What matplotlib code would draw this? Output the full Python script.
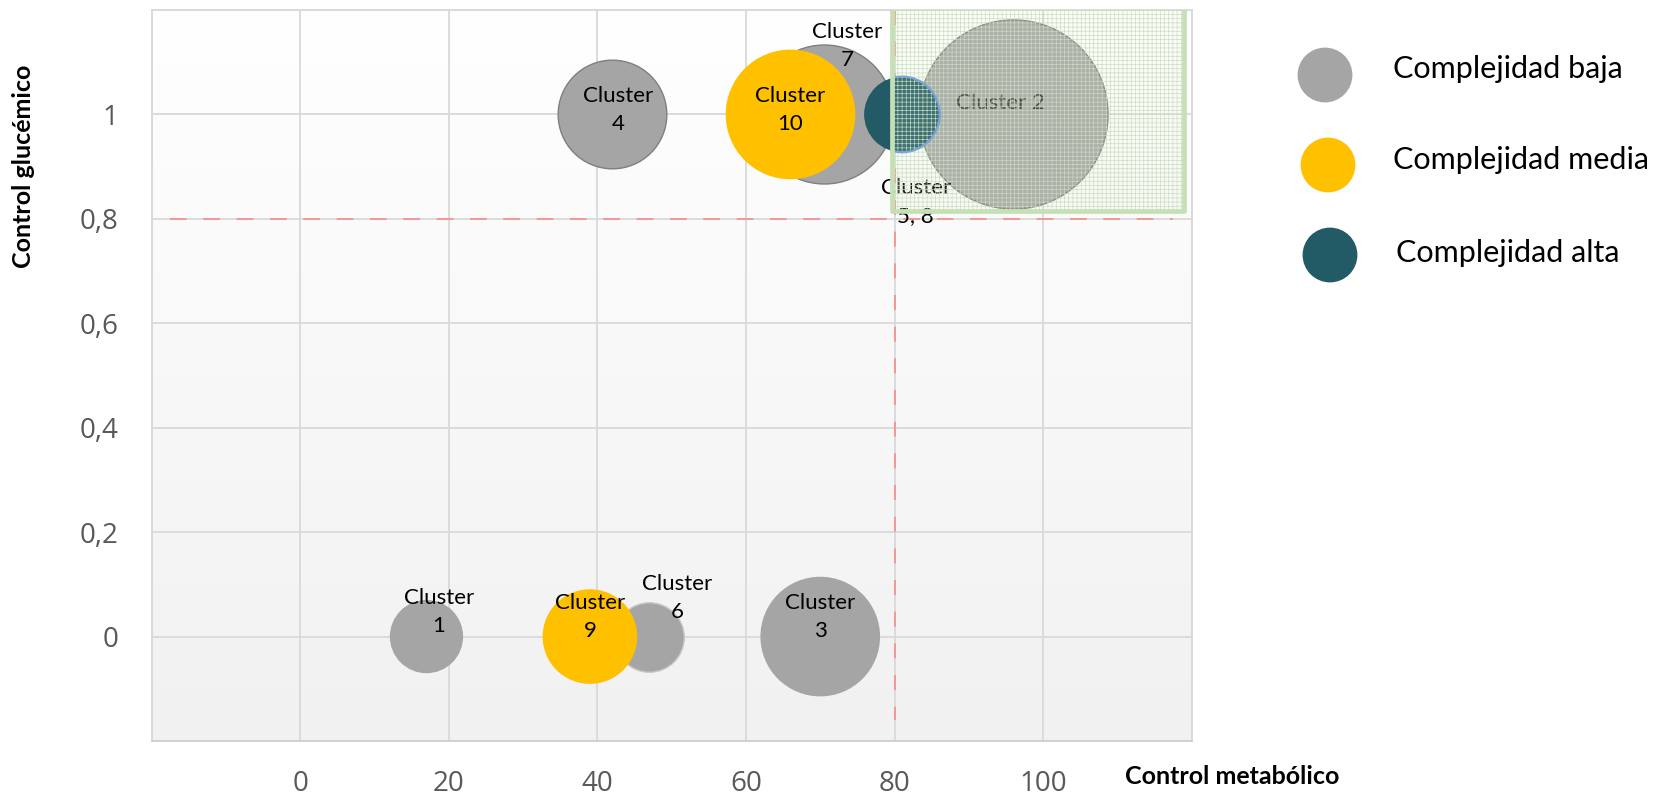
import numpy as np
import matplotlib
matplotlib.use("Agg")
import matplotlib.pyplot as plt
from matplotlib.colors import LinearSegmentedColormap
from matplotlib.patches import Rectangle, Circle

# ---- data -------------------------------------------------------------
cluster_labels = ["Cluster\n1", "Cluster 2", "Cluster\n3", "Cluster\n4",
                  "Cluster\n6", "Cluster\n7", "Cluster\n9", "Cluster\n10",
                  "Cluster\n5, 8"]
control_metabolico = [17, 96, 70, 42, 47, 70.5, 39, 66, 81]
control_glucemico = [0, 1, 0, 1, 0, 1, 0, 1, 1]
bubble_size = [15, 100, 40, 33, 13.5, 54, 25, 47, 16]
complejidad = ["baja", "baja", "baja", "baja", "baja", "baja",
               "media", "media", "alta"]

x_ticks = [-20, 0, 20, 40, 60, 80, 100, 120]
x_tick_labels = ["", "0", "20", "40", "60", "80", "100", ""]
y_ticks = [-0.2, 0, 0.2, 0.4, 0.6, 0.8, 1.0, 1.2]
y_tick_labels = ["", "0", "0,2", "0,4", "0,6", "0,8", "1", ""]

umbral_metabolico = 80
umbral_glucemico = 0.8

legend_names = ["Complejidad baja", "Complejidad media", "Complejidad alta"]

# ---- style ------------------------------------------------------------
colors = {"baja": "#a5a5a5", "media": "#ffc000", "alta": "#225a66"}
edge_colors = ["none", "#7a7a7a", "none", "#7f7f7f", "#c8c8c8", "#7f7f7f",
               "none", "none", "none"]
# label offsets (points) from each bubble centre
label_offsets = [(9, 18), (-9, 8), (0, 14), (4, 3), (20, 28), (17, 49),
                 (0, 14), (0, 3), (10, -63)]
label_colors = ["black", "#333333", "black", "black", "black", "black",
                "black", "black", "black"]

W, H = 1674, 799
plt.rcParams["font.family"] = ["Lato", "DejaVu Sans"]
plt.rcParams["hatch.linewidth"] = 0.45

fig = plt.figure(figsize=(W / 100, H / 100), dpi=100)
ax = fig.add_axes([151.6 / W, 1 - 741 / H, (1191.7 - 151.6) / W, (741 - 10) / H])

# soft vertical gradient for the plot area
bg = LinearSegmentedColormap.from_list("bg", ["#ffffff", "#f1f1f1"])
ax.imshow(np.linspace(0, 1, 256).reshape(-1, 1), cmap=bg, aspect="auto",
          extent=[-20, 120, -0.2, 1.2], origin="upper", zorder=0)

ax.set_xlim(-20, 120)
ax.set_ylim(-0.2, 1.2)
ax.set_xticks(x_ticks)
ax.set_xticklabels(x_tick_labels)
ax.set_yticks(y_ticks)
ax.set_yticklabels(y_tick_labels)
ax.tick_params(length=0, labelsize=20, labelcolor="#595959")
ax.tick_params(axis="y", pad=24)
ax.tick_params(axis="x", pad=21)
for lab in ax.get_xticklabels() + ax.get_yticklabels():
    lab.set_family("Open Sans")
ax.grid(True, color="#d9d9d9", lw=1.3, zorder=0.5)
ax.set_axisbelow(True)
for side, sp in ax.spines.items():
    sp.set_color("#d9d9d9")
    sp.set_linewidth(1.3)
ax.spines["bottom"].set_color("#cfcfcf")

# threshold reference lines
ax.plot([-17.5, 117.5], [umbral_glucemico, umbral_glucemico], color="#ff6b6b",
        lw=1.2, dashes=(10, 10), alpha=0.7, zorder=1)
ax.plot([umbral_metabolico, umbral_metabolico], [1.2, -0.16], color="#ff6b6b",
        lw=1.2, dashes=(9, 10), alpha=0.7, zorder=1)

# bubbles
k = 185.5
pt_colors = [colors[c] for c in complejidad]
for i in range(len(cluster_labels)):
    ax.scatter(control_metabolico[i], control_glucemico[i],
               s=bubble_size[i] * k, color=pt_colors[i],
               edgecolors=edge_colors[i], linewidths=1.0, zorder=2 + i * 0.01)

for i, txt in enumerate(cluster_labels):
    ax.annotate(txt, (control_metabolico[i], control_glucemico[i]),
                xytext=label_offsets[i], textcoords="offset points",
                ha="center", va="center", fontsize=16, linespacing=1.5,
                color=label_colors[i], zorder=3)

# highlighted target zone
zone = Rectangle((umbral_metabolico - 0.4, umbral_glucemico + 0.015), 39.4, 0.39,
                 facecolor=(0.886, 0.94, 0.85, 0.14), edgecolor="#c9dcbc",
                 hatch="++++", lw=0, zorder=4)
ax.add_patch(zone)
ax.add_patch(Rectangle((umbral_metabolico - 0.4, umbral_glucemico + 0.015), 39.4, 0.39,
                       fill=False, edgecolor="#c5e0b4", lw=3.4, zorder=4.5,
                       joinstyle="round"))
ring = ax.scatter(control_metabolico[-1], control_glucemico[-1],
                  s=bubble_size[-1] * k, facecolors="none",
                  edgecolors="#7aa6d6", linewidths=1.6, zorder=4.2)
ring.set_clip_path(zone)

# legend and axis titles, laid out in figure pixels
lax = fig.add_axes([0, 0, 1, 1])
lax.set_xlim(0, W)
lax.set_ylim(H, 0)
lax.axis("off")
lax.patch.set_alpha(0)
legend_pos = [(1325, 75, 1393, 69), (1328, 165, 1393, 160), (1330, 255, 1396, 253)]
for (cx, cy, tx, ty), name, key in zip(legend_pos, legend_names, ["baja", "media", "alta"]):
    lax.add_patch(Circle((cx, cy), 26.7, color=colors[key]))
    lax.text(tx, ty, name, fontsize=22, ha="left", va="center", color="black")

lax.text(1232, 777, "Control metabólico", fontsize=18, fontweight="bold",
         ha="center", va="center")
lax.text(24, 166, "Control glucémico", fontsize=18, fontweight="bold",
         ha="center", va="center", rotation=90)

fig.savefig("out.png", dpi=100)
